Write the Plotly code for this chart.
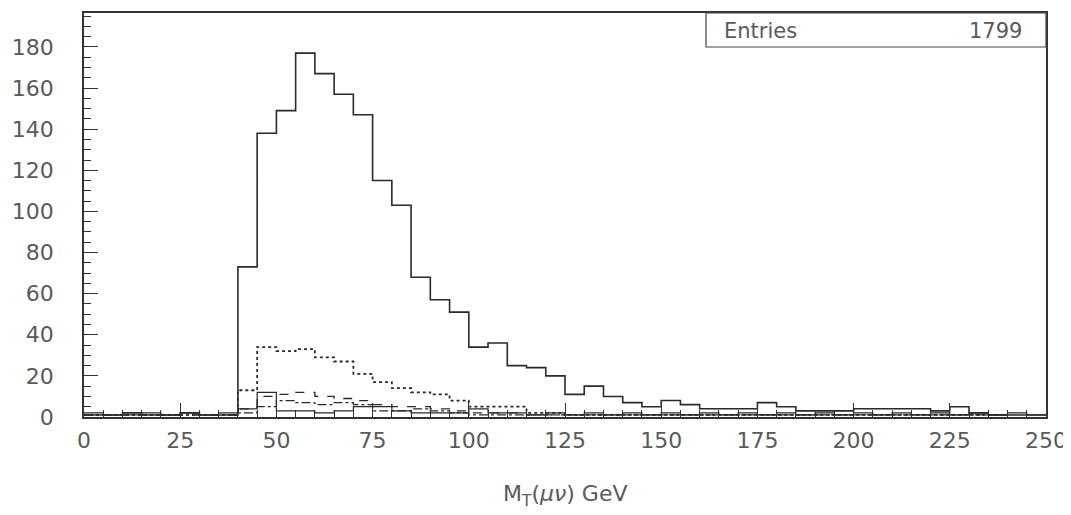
import plotly.graph_objects as go

# Bin edges: 0..250 GeV in 5 GeV bins
bin_width = 5
bin_start = 0
n_bins = 50

# Main histogram (solid)
main_counts = [1, 1, 2, 1, 1, 2, 1, 1,
               73, 138, 149, 177, 167, 157, 147, 115, 103, 68,
               57, 51, 34, 36, 25, 24, 20, 11, 15, 10,
               7, 5, 8, 6, 4, 4, 4, 7, 5, 3,
               3, 3, 4, 4, 4, 4, 3, 5, 2, 1, 1, 1]

# Dotted component
dotted_counts = [1, 1, 1, 1, 1, 1, 1, 1,
                 13, 34, 32, 33, 29, 27, 21, 17, 14, 12,
                 11, 8, 5, 5, 5, 2, 2, 1, 1, 1,
                 1, 1, 1, 1, 1, 1, 1, 1, 1, 1,
                 1, 1, 1, 1, 1, 1, 1, 1, 1, 1]

# Dashed component
dashed_counts = [1, 1, 1, 1, 1, 1, 1, 1,
                 4, 10, 11, 12, 10, 9, 8, 6, 5, 5,
                 4, 3, 2, 2, 2, 1, 1, 1, 1, 1,
                 1, 1, 1, 1, 1, 1, 1, 1, 1, 1,
                 1, 1, 1, 1, 1, 1, 1, 1, 1, 1]

# Dash-dot component
dashdot_counts = [1, 1, 1, 1, 1, 1, 1, 1,
                  2, 5, 8, 7, 6, 7, 6, 3, 3, 4,
                  3, 2, 1, 1, 1, 1, 1, 1, 1, 1,
                  1, 1, 1, 1, 1, 1, 1, 1, 1, 1,
                  1, 1, 1, 1, 1, 1, 1, 1, 1, 1]

# Small solid component
small_counts = [2, 1, 1, 2, 1, 2, 1, 2,
                4, 12, 3, 3, 2, 3, 5, 5, 3, 2,
                2, 2, 4, 2, 2, 1, 2, 1, 2, 1,
                2, 1, 2, 1, 2, 1, 2, 1, 2, 1,
                2, 1, 2, 1, 2, 1, 2, 1, 2, 1, 2, 1]

x_ticks = [0, 25, 50, 75, 100, 125, 150, 175, 200, 225, 250]
y_ticks = [0, 20, 40, 60, 80, 100, 120, 140, 160, 180]

entries_label = "Entries"
entries_value = "1799"
x_title = "M<sub>T</sub>(<i>μν</i>) GeV"

edges = [bin_start + i * bin_width for i in range(n_bins + 1)]


def step_trace(counts, dash, width=1.6):
    xs = edges
    ys = list(counts) + [counts[-1]]
    return go.Scatter(x=xs, y=ys, mode="lines", line_shape="hv",
                      line=dict(color="#2a2a2a", width=width, dash=dash),
                      hoverinfo="skip", showlegend=False)


fig = go.Figure()
fig.add_trace(step_trace(small_counts, "solid", 1.2))
fig.add_trace(step_trace(dashdot_counts, "dashdot", 1.3))
fig.add_trace(step_trace(dashed_counts, "dash", 1.3))
fig.add_trace(step_trace(dotted_counts, "dot", 1.8))
fig.add_trace(step_trace(main_counts, "solid", 1.6))

font_family = "DejaVu Sans"
tick_color = "#5a5a5a"

# page body has an 8px margin, so the figure is sized to fit inside the window
fig.update_layout(
    width=1063, height=507,
    margin=dict(l=76, r=25, t=5, b=98),
    paper_bgcolor="white", plot_bgcolor="white",
    font=dict(family=font_family, color=tick_color),
    xaxis=dict(
        range=[0, 250], tickvals=x_ticks, ticktext=[str(v) for v in x_ticks],
        showline=True, linecolor="#333333", linewidth=1.5, mirror=True,
        ticks="inside", ticklen=14, tickcolor="#333333", tickwidth=1,
        minor=dict(dtick=5, ticks="inside", ticklen=7, tickcolor="#333333", tickwidth=1),
        showgrid=False, zeroline=False, automargin=False,
        tickfont=dict(size=22, color=tick_color, family=font_family),
        ticklabelstandoff=3,
    ),
    yaxis=dict(
        range=[0, 196.5], tickvals=y_ticks, ticktext=[str(v) for v in y_ticks],
        showline=True, linecolor="#333333", linewidth=1.5, mirror=True,
        ticks="inside", ticklen=14, tickcolor="#333333", tickwidth=1,
        minor=dict(dtick=5, ticks="inside", ticklen=7, tickcolor="#333333", tickwidth=1),
        showgrid=False, zeroline=False, automargin=False,
        tickfont=dict(size=22, color=tick_color, family=font_family),
        ticklabelstandoff=24,
    ),
)

# Axis title
fig.add_annotation(text=x_title, xref="paper", yref="paper", x=0.5, y=-0.195,
                   xanchor="center", yanchor="middle", showarrow=False,
                   font=dict(size=22, color=tick_color, family=font_family))

# Entries box
fig.add_shape(type="rect", xref="paper", yref="paper",
              x0=(706 - 84) / 962, x1=1.0, y0=1 - (47 - 13) / 404, y1=1.0,
              line=dict(color="#444444", width=1.2), fillcolor="rgba(0,0,0,0)")
fig.add_annotation(text=entries_label, xref="paper", yref="paper",
                   x=(722 - 84) / 962, y=1 - (31 - 13) / 404,
                   xanchor="left", yanchor="middle", showarrow=False,
                   font=dict(size=21, color=tick_color, family=font_family))
fig.add_annotation(text=entries_value, xref="paper", yref="paper",
                   x=(1024 - 84) / 962, y=1 - (31 - 13) / 404,
                   xanchor="right", yanchor="middle", showarrow=False,
                   font=dict(size=21, color=tick_color, family=font_family))

fig.write_html("out.html")
